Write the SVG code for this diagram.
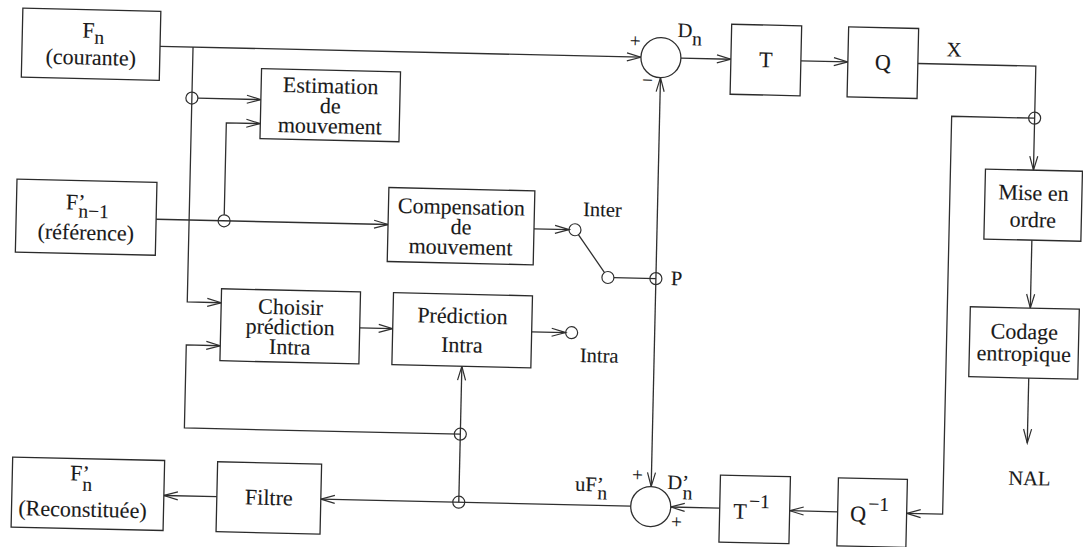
<svg xmlns="http://www.w3.org/2000/svg" width="1083" height="547" viewBox="0 0 1083 547">
  <defs>
    <style>
      .box{fill:#fff;stroke:#2b2b2b;stroke-width:1.3}
      text{font-family:"Liberation Serif","Tinos","Times New Roman","DejaVu Serif",serif;fill:#1a1a1a;stroke:#1a1a1a;stroke-width:0.12}
      .t{font-size:22px;text-anchor:middle}
      .lbl{font-size:20.5px}
      .mid{text-anchor:middle}
      .sub{font-size:19.5px}
      .sign{font-size:19px;text-anchor:middle}
      .w{fill:none;stroke:#2f2f2f;stroke-width:1.3}
      .a{marker-end:url(#arr)}
      .aa{marker-start:url(#arr);marker-end:url(#arr)}
      .dot{fill:none;stroke:#2f2f2f;stroke-width:1.2}
      .sum{fill:#fff;stroke:#2f2f2f;stroke-width:1.3}
    </style>
    <marker id="arr" viewBox="-16 -6 18 12" markerWidth="18" markerHeight="12" refX="0" refY="0" orient="auto-start-reverse" markerUnits="userSpaceOnUse">
      <path d="M-14,-4 L0,0 L-14,4" fill="none" stroke="#2f2f2f" stroke-width="1.2"/>
    </marker>
  </defs>
  <rect width="1083" height="547" fill="#fff"/>

  <g transform="rotate(1.3 541 273)">
    <!-- signal paths -->
    <g id="connectors">
      <path class="w a" d="M155,55 H636"/>
      <path class="w a" d="M188,55 V310 H222"/>
      <path class="w a" d="M194,106 H257"/>
      <path class="w a" d="M155,228 H387"/>
      <path class="w a" d="M223,222 V130 H257"/>
      <path class="w a" d="M533,229 H568"/>
      <path class="w" d="M577.5,233.9 L604.5,271.1"/>
      <path class="w" d="M614,276 H656"/>
      <path class="w aa" d="M656,484 V75"/>
      <path class="w a" d="M361,332 H394"/>
      <path class="w a" d="M533,332 H567"/>
      <path class="w a" d="M676,55 H726"/>
      <path class="w a" d="M796,55 H843"/>
      <path class="w a" d="M913,55 H1031 V159"/>
      <path class="w a" d="M1031,107 H948 V505 H912"/>
      <path class="w a" d="M1031,229 V297"/>
      <path class="w a" d="M1031,367 V432"/>
      <path class="w a" d="M843,505 H795"/>
      <path class="w a" d="M725,504 H676"/>
      <path class="w a" d="M636,504 H326"/>
      <path class="w a" d="M222,504 H169"/>
      <path class="w a" d="M464,504 V368"/>
      <path class="w a" d="M464,436 H188 V353 H222"/>
      <!-- branch points -->
      <circle class="dot" cx="188" cy="106" r="6"/>
      <circle class="dot" cx="223" cy="228" r="6"/>
      <circle class="dot" cx="656" cy="276" r="6"/>
      <circle class="dot" cx="464" cy="436" r="6"/>
      <circle class="dot" cx="464" cy="504" r="6"/>
      <circle class="dot" cx="1031" cy="107" r="6"/>
    </g>

    <g id="fn">
      <rect class="box" x="17" y="20" width="138" height="69"/>
      <text class="t" x="88" y="48">F<tspan class="sub" dy="6">n</tspan></text>
      <text class="t" x="86" y="75">(courante)</text>
    </g>

    <g id="estimation">
      <rect class="box" x="257" y="75" width="139" height="70"/>
      <text class="t" x="326.5" y="98">Estimation</text>
      <text class="t" x="326.5" y="118">de</text>
      <text class="t" x="326.5" y="138">mouvement</text>
    </g>

    <g id="fref">
      <rect class="box" x="15" y="191" width="140" height="73"/>
      <text class="t" x="86" y="220">F<tspan>’</tspan><tspan class="sub" dx="-7" dy="8">n−1</tspan></text>
      <text class="t" x="85" y="250">(référence)</text>
    </g>

    <g id="compensation">
      <rect class="box" x="387" y="191" width="146" height="74"/>
      <text class="t" x="460" y="216">Compensation</text>
      <text class="t" x="460" y="236">de</text>
      <text class="t" x="460" y="256">mouvement</text>
    </g>

    <g id="switch">
      <circle class="dot" cx="574" cy="229" r="6"/>
      <circle class="dot" cx="608" cy="276" r="6"/>
      <circle class="dot" cx="573" cy="332" r="6"/>
      <text class="lbl mid" x="601" y="215">Inter</text>
      <text class="lbl mid" x="601" y="361">Intra</text>
      <text class="lbl" x="671" y="282">P</text>
    </g>

    <g id="choisir">
      <rect class="box" x="222" y="296" width="139" height="72"/>
      <text class="t" x="291.5" y="320">Choisir</text>
      <text class="t" x="291.5" y="340">prédiction</text>
      <text class="t" x="291.5" y="360">Intra</text>
    </g>

    <g id="prediction">
      <rect class="box" x="394" y="296" width="139" height="72"/>
      <text class="t" x="463.5" y="325">Prédiction</text>
      <text class="t" x="463.5" y="354">Intra</text>
    </g>

    <g id="sum-top">
      <circle class="sum" cx="656" cy="55" r="20"/>
      <text class="sign" x="630" y="45">+</text>
      <text class="sign" x="643" y="84">−</text>
      <text class="lbl" x="672" y="34">D<tspan class="sub" dy="8">n</tspan></text>
    </g>

    <g id="t">
      <rect class="box" x="726" y="20" width="70" height="70"/>
      <text class="t" x="761" y="62">T</text>
    </g>

    <g id="q">
      <rect class="box" x="843" y="20" width="70" height="70"/>
      <text class="t" x="878" y="62">Q</text>
      <text class="lbl mid" x="949" y="47">X</text>
    </g>

    <g id="ordre">
      <rect class="box" x="983" y="159" width="97" height="70"/>
      <text class="t" x="1031.5" y="189">Mise en</text>
      <text class="t" x="1031.5" y="216">ordre</text>
    </g>

    <g id="codage">
      <rect class="box" x="971" y="297" width="109" height="70"/>
      <text class="t" x="1025.5" y="328">Codage</text>
      <text class="t" x="1025.5" y="350">entropique</text>
      <text class="lbl mid" x="1034" y="474">NAL</text>
    </g>

    <g id="qinv">
      <rect class="box" x="843" y="471" width="69" height="68"/>
      <text class="t" x="875" y="514">Q<tspan class="sub" dx="2" dy="-11">−1</tspan></text>
    </g>

    <g id="tinv">
      <rect class="box" x="725" y="471" width="70" height="67"/>
      <text class="t" x="757" y="514">T<tspan class="sub" dx="2" dy="-11">−1</tspan></text>
    </g>

    <g id="sum-bottom">
      <circle class="sum" cx="656" cy="504" r="20"/>
      <text class="sign" x="642" y="479">+</text>
      <text class="sign" x="682" y="525">+</text>
      <text class="lbl" x="672" y="486">D<tspan>’</tspan><tspan class="sub" dx="-6" dy="10">n</tspan></text>
      <text class="lbl" x="580" y="490">uF<tspan>’</tspan><tspan class="sub" dx="-6" dy="8">n</tspan></text>
    </g>

    <g id="filtre">
      <rect class="box" x="222" y="469" width="104" height="70"/>
      <text class="t" x="274" y="511">Filtre</text>
    </g>

    <g id="frec">
      <rect class="box" x="17" y="469" width="152" height="70"/>
      <text class="t" x="86" y="491">F<tspan>’</tspan><tspan class="sub" dx="-7" dy="10">n</tspan></text>
      <text class="t" x="88" y="527">(Reconstituée)</text>
    </g>
  </g>
</svg>
